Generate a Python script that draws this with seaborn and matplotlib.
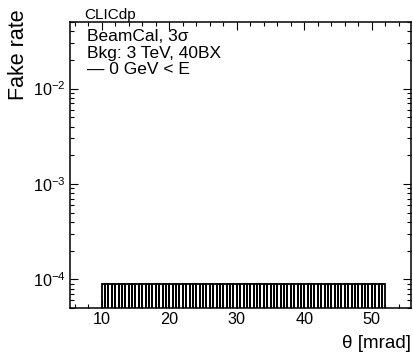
import numpy as np
import pandas as pd
import matplotlib
matplotlib.use("Agg")
import matplotlib.pyplot as plt
from matplotlib.ticker import MultipleLocator, NullFormatter, LogLocator
import seaborn as sns

# ---- data ----
bin_edges = list(np.arange(10.0, 52.0 + 0.25, 0.5))     # theta bin edges [mrad]
theta_centers = [(a + b) / 2 for a, b in zip(bin_edges[:-1], bin_edges[1:])]
fake_rate = [9e-5] * len(theta_centers)                  # fake rate per bin
x_ticks = [10, 20, 30, 40, 50]
legend_lines = ["BeamCal, 3\u03c3", "Bkg: 3 TeV, 40BX", "\u2014 0 GeV < E"]

df = pd.DataFrame({"theta": theta_centers, "rate": fake_rate})

sns.set_style("ticks")
plt.rcParams["font.family"] = ["Liberation Sans", "DejaVu Sans"]
plt.rcParams["mathtext.fontset"] = "custom"
plt.rcParams["mathtext.rm"] = "Liberation Sans"
plt.rcParams["mathtext.it"] = "Liberation Sans:italic"
plt.rcParams["mathtext.bf"] = "Liberation Sans:bold"
plt.rcParams["mathtext.sf"] = "Liberation Sans"
plt.rcParams["text.color"] = "black"
plt.rcParams["axes.labelcolor"] = "black"

fig = plt.figure(figsize=(4.14, 3.54), dpi=100)
ax = fig.add_axes([70 / 414, 1 - 308 / 354, 341 / 414, 286 / 354])

sns.histplot(data=df, x="theta", weights="rate", bins=bin_edges,
             element="bars", fill=False, color="black", linewidth=1.3,
             alpha=1.0, ax=ax)

ax.set_yscale("log")
ax.set_xlim(5.3, 55.8)
ax.set_ylim(5e-5, 0.05)

ax.set_xticks(x_ticks)
ax.xaxis.set_minor_locator(MultipleLocator(2))
ax.yaxis.set_major_locator(LogLocator(base=10))
ax.yaxis.set_minor_locator(LogLocator(base=10, subs=np.arange(2, 10)))
ax.yaxis.set_minor_formatter(NullFormatter())

ax.tick_params(which="both", direction="in", top=True, right=True,
               width=0.8, colors="black", labelsize=11.7, pad=3)
ax.tick_params(which="major", length=6)
ax.tick_params(which="minor", length=3)
for s in ax.spines.values():
    s.set_linewidth(1.1)
    s.set_color("black")

ax.set_xlabel("\u03b8 [mrad]", fontsize=13.5, ha="right", va="baseline")
ax.xaxis.set_label_coords(1.0, -0.14)
ax.set_ylabel("Fake rate", fontsize=15.5, ha="right", va="bottom")
ax.yaxis.set_label_coords(-0.12, 1.045)

ax.text(0.041, 1.0105, "CLICdp", transform=ax.transAxes, fontsize=11,
        ha="left", va="baseline")
for txt, yy in zip(legend_lines, [0.934, 0.874, 0.818]):
    ax.text(0.05, yy, txt, transform=ax.transAxes, fontsize=12.5,
            ha="left", va="baseline")

fig.savefig("out.png", dpi=100)
